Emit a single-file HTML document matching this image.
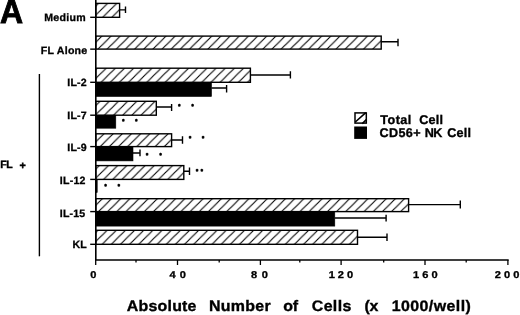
<!DOCTYPE html>
<html><head><meta charset="utf-8"><title>Figure A</title>
<style>
html,body{margin:0;padding:0;background:#fff;}
body{width:520px;height:315px;overflow:hidden;}
svg{display:block;}
text{font-family:"Liberation Sans",sans-serif;font-weight:bold;fill:#000;text-rendering:geometricPrecision;}
</style></head><body>
<svg width="520" height="315" viewBox="0 0 520 315">
<defs>
<pattern id="h" patternUnits="userSpaceOnUse" width="9.157" height="9.057" patternTransform="translate(1.13,0)">
<path d="M-1.37,10.42 L10.53,-1.36 M-2.29,2.26 L2.29,-2.26 M6.87,11.32 L11.45,6.79" stroke="#000" stroke-width="1.1" fill="none"/>
</pattern>
</defs>
<rect width="520" height="315" fill="#fff"/>

<rect x="95.8" y="3.4" width="23.8" height="13.9" fill="url(#h)" stroke="#000" stroke-width="1.4"/>
<line x1="90.2" y1="17.3" x2="95.8" y2="17.3" stroke="#000" stroke-width="1.4"/>
<rect x="95.8" y="36.1" width="285.4" height="13.0" fill="url(#h)" stroke="#000" stroke-width="1.4"/>
<line x1="90.2" y1="49.15" x2="95.8" y2="49.15" stroke="#000" stroke-width="1.4"/>
<rect x="95.8" y="68.2" width="154.6" height="14.1" fill="url(#h)" stroke="#000" stroke-width="1.4"/>
<rect x="95.8" y="82.3" width="115.7" height="14.2" fill="#000" stroke="#000" stroke-width="0.6"/>
<line x1="90.2" y1="82.3" x2="95.8" y2="82.3" stroke="#000" stroke-width="1.4"/>
<rect x="95.8" y="101.3" width="60.5" height="13.9" fill="url(#h)" stroke="#000" stroke-width="1.4"/>
<rect x="95.8" y="115.2" width="20.0" height="13.0" fill="#000" stroke="#000" stroke-width="0.6"/>
<line x1="90.2" y1="115.2" x2="95.8" y2="115.2" stroke="#000" stroke-width="1.4"/>
<rect x="95.8" y="133.8" width="75.8" height="12.8" fill="url(#h)" stroke="#000" stroke-width="1.4"/>
<rect x="95.8" y="146.6" width="37.2" height="14.3" fill="#000" stroke="#000" stroke-width="0.6"/>
<line x1="90.2" y1="146.6" x2="95.8" y2="146.6" stroke="#000" stroke-width="1.4"/>
<rect x="95.8" y="165.6" width="88.0" height="13.8" fill="url(#h)" stroke="#000" stroke-width="1.4"/>
<rect x="95.8" y="179.4" width="1.4" height="13.1" fill="#000" stroke="#000" stroke-width="0.6"/>
<line x1="90.2" y1="179.4" x2="95.8" y2="179.4" stroke="#000" stroke-width="1.4"/>
<rect x="95.8" y="198.7" width="312.8" height="12.9" fill="url(#h)" stroke="#000" stroke-width="1.4"/>
<rect x="95.8" y="211.6" width="239.0" height="14.5" fill="#000" stroke="#000" stroke-width="0.6"/>
<line x1="90.2" y1="211.6" x2="95.8" y2="211.6" stroke="#000" stroke-width="1.4"/>
<rect x="95.8" y="230.3" width="261.7" height="14.0" fill="url(#h)" stroke="#000" stroke-width="1.4"/>
<line x1="90.2" y1="244.3" x2="95.8" y2="244.3" stroke="#000" stroke-width="1.4"/>
<path d="M119.6,9.9 H125.5 M125.5,6.5 V13.0" stroke="#000" stroke-width="1.4" fill="none"/>
<path d="M381.2,41.8 H398.0 M398.0,38.8 V46.2" stroke="#000" stroke-width="1.4" fill="none"/>
<path d="M250.4,75.0 H290.4 M290.4,71.3 V78.5" stroke="#000" stroke-width="1.4" fill="none"/>
<path d="M211.5,88.0 H226.6 M226.6,84.9 V92.4" stroke="#000" stroke-width="1.4" fill="none"/>
<path d="M156.3,107.0 H171.6 M171.6,103.9 V111.1" stroke="#000" stroke-width="1.4" fill="none"/>
<path d="M171.6,140.0 H182.5 M182.5,136.3 V143.8" stroke="#000" stroke-width="1.4" fill="none"/>
<path d="M133.0,153.0 H140.0 M140.0,149.5 V156.3" stroke="#000" stroke-width="1.4" fill="none"/>
<path d="M183.8,171.3 H189.5 M189.5,167.5 V175.0" stroke="#000" stroke-width="1.4" fill="none"/>
<path d="M408.6,204.6 H460.3 M460.3,200.6 V208.5" stroke="#000" stroke-width="1.4" fill="none"/>
<path d="M334.8,218.0 H386.1 M386.1,214.8 V221.5" stroke="#000" stroke-width="1.4" fill="none"/>
<path d="M357.5,237.3 H387.0 M387.0,233.5 V240.9" stroke="#000" stroke-width="1.4" fill="none"/>
<path d="M95.8,0 V260 H508.7" stroke="#000" stroke-width="1.6" fill="none"/>
<line x1="95.7" y1="260" x2="95.7" y2="265.0" stroke="#000" stroke-width="1.3"/>
<line x1="136.0" y1="260" x2="136.0" y2="262.6" stroke="#000" stroke-width="1.3"/>
<line x1="177.5" y1="260" x2="177.5" y2="265.0" stroke="#000" stroke-width="1.3"/>
<line x1="219.2" y1="260" x2="219.2" y2="262.6" stroke="#000" stroke-width="1.3"/>
<line x1="260.4" y1="260" x2="260.4" y2="265.0" stroke="#000" stroke-width="1.3"/>
<line x1="299.8" y1="260" x2="299.8" y2="262.6" stroke="#000" stroke-width="1.3"/>
<line x1="341.1" y1="260" x2="341.1" y2="265.0" stroke="#000" stroke-width="1.3"/>
<line x1="383.7" y1="260" x2="383.7" y2="262.6" stroke="#000" stroke-width="1.3"/>
<line x1="425.0" y1="260" x2="425.0" y2="265.0" stroke="#000" stroke-width="1.3"/>
<line x1="466.2" y1="260" x2="466.2" y2="262.6" stroke="#000" stroke-width="1.3"/>
<line x1="507.9" y1="260" x2="507.9" y2="265.0" stroke="#000" stroke-width="1.3"/>
<line x1="39.4" y1="74" x2="39.4" y2="256.3" stroke="#000" stroke-width="1.4"/>
<text id="A" transform="translate(0.00,23.4) scale(0.945,1)" font-size="33.8" stroke="#000" stroke-width="0.9">A</text>
<text id="medium" transform="translate(44.25,21.45) scale(1,1)" font-size="10.6" textLength="41.50" lengthAdjust="spacing" stroke="#000" stroke-width="0.3">Medium</text>
<text id="flalone" transform="translate(40.75,54.05) scale(1,1)" font-size="10.6" textLength="46.50" lengthAdjust="spacing" stroke="#000" stroke-width="0.3">FL Alone</text>
<text id="il2" transform="translate(67.25,86.1) scale(1,1)" font-size="10.6" textLength="19.50" lengthAdjust="spacing" stroke="#000" stroke-width="0.3">IL-2</text>
<text id="il7" transform="translate(67.25,119.1) scale(1,1)" font-size="10.6" textLength="19.50" lengthAdjust="spacing" stroke="#000" stroke-width="0.3">IL-7</text>
<text id="il9" transform="translate(67.25,151.4) scale(1,1)" font-size="10.6" textLength="19.50" lengthAdjust="spacing" stroke="#000" stroke-width="0.3">IL-9</text>
<text id="il12" transform="translate(59.75,183.6) scale(1,1)" font-size="10.6" textLength="25.75" lengthAdjust="spacing" stroke="#000" stroke-width="0.3">IL-12</text>
<text id="il15" transform="translate(59.75,216.6) scale(1,1)" font-size="10.6" textLength="25.50" lengthAdjust="spacing" stroke="#000" stroke-width="0.3">IL-15</text>
<text id="kl" transform="translate(72.50,248.2) scale(1,1)" font-size="10.6" textLength="14.25" lengthAdjust="spacing" stroke="#000" stroke-width="0.3">KL</text>
<text id="fl" transform="translate(0.25,168.2) scale(1,1)" font-size="10.6" textLength="12.50" lengthAdjust="spacing" stroke="#000" stroke-width="0.35">FL</text>
<text id="plus" transform="translate(19.50,168.9) scale(1,1)" font-size="10.8" stroke="#000" stroke-width="0.4">+</text>
<text id="total" transform="translate(380.25,123.8) scale(1,1)" font-size="12.6" textLength="31.00" lengthAdjust="spacing" stroke="#000" stroke-width="0.35">Total</text>
<text id="cell1" transform="translate(419.25,123.8) scale(1,1)" font-size="12.6" textLength="23.75" lengthAdjust="spacing" stroke="#000" stroke-width="0.35">Cell</text>
<text id="cd56" transform="translate(379.50,137.0) scale(1,1)" font-size="12.6" textLength="41.00" lengthAdjust="spacing" stroke="#000" stroke-width="0.35">CD56+</text>
<text id="nk" transform="translate(424.75,137.0) scale(1,1)" font-size="12.6" textLength="17.50" lengthAdjust="spacing" stroke="#000" stroke-width="0.35">NK</text>
<text id="cell2" transform="translate(447.25,137.0) scale(1,1)" font-size="12.6" textLength="23.75" lengthAdjust="spacing" stroke="#000" stroke-width="0.35">Cell</text>
<text id="t0" transform="translate(90.15,278.3) scale(1.12,1)" font-size="9.9" stroke="#000" stroke-width="0.3">0</text>
<text id="t40" transform="translate(169.50,278.3) scale(1.12,1)" font-size="9.9" textLength="14.69" lengthAdjust="spacing" stroke="#000" stroke-width="0.3">4 0</text>
<text id="t80" transform="translate(251.05,278.3) scale(1.12,1)" font-size="9.9" textLength="15.09" lengthAdjust="spacing" stroke="#000" stroke-width="0.3">8 0</text>
<text id="t120" transform="translate(328.80,278.3) scale(1.12,1)" font-size="9.9" textLength="21.65" lengthAdjust="spacing" stroke="#000" stroke-width="0.3">1 2 0</text>
<text id="t160" transform="translate(413.00,278.3) scale(1.12,1)" font-size="9.9" textLength="22.10" lengthAdjust="spacing" stroke="#000" stroke-width="0.3">1 6 0</text>
<text id="t200" transform="translate(494.85,278.3) scale(1.12,1)" font-size="9.9" textLength="21.96" lengthAdjust="spacing" stroke="#000" stroke-width="0.3">2 0 0</text>
<text id="absolute" transform="translate(126.75,311.2) scale(1.05,1)" font-size="15.2" textLength="66.43" lengthAdjust="spacing" stroke="#000" stroke-width="0.35">Absolute</text>
<text id="number" transform="translate(209.00,311.2) scale(1.05,1)" font-size="15.2" textLength="58.81" lengthAdjust="spacing" stroke="#000" stroke-width="0.35">Number</text>
<text id="of" transform="translate(283.25,311.2) scale(1.05,1)" font-size="15.2" textLength="14.05" lengthAdjust="spacing" stroke="#000" stroke-width="0.35">of</text>
<text id="cells" transform="translate(311.80,311.2) scale(1.05,1)" font-size="15.2" textLength="37.62" lengthAdjust="spacing" stroke="#000" stroke-width="0.35">Cells</text>
<text id="x" transform="translate(364.50,311.2) scale(1.05,1)" font-size="15.2" textLength="13.33" lengthAdjust="spacing" stroke="#000" stroke-width="0.35">(x</text>
<text id="well" transform="translate(391.75,311.2) scale(1.05,1)" font-size="15.2" textLength="75.33" lengthAdjust="spacing" stroke="#000" stroke-width="0.35">1000/well)</text>
<rect x="355.0" y="112.9" width="11.3" height="10.2" fill="#fff" stroke="#000" stroke-width="1.5"/>
<path d="M355.3,122.0 L365.8,112.6 M362.3,123.6 L366.6,119.4" stroke="#000" stroke-width="1.6" fill="none"/>
<rect x="354.2" y="126.5" width="12.8" height="12.4" fill="#000"/>
<text x="179.2" y="108.3" font-size="5.5" text-anchor="middle" stroke="#000" stroke-width="0.85" stroke-linejoin="round">*</text>
<text x="192.6" y="108.3" font-size="5.5" text-anchor="middle" stroke="#000" stroke-width="0.85" stroke-linejoin="round">*</text>
<text x="123.3" y="123.2" font-size="5.5" text-anchor="middle" stroke="#000" stroke-width="0.85" stroke-linejoin="round">*</text>
<text x="136.3" y="123.2" font-size="5.5" text-anchor="middle" stroke="#000" stroke-width="0.85" stroke-linejoin="round">*</text>
<text x="190" y="139.7" font-size="5.5" text-anchor="middle" stroke="#000" stroke-width="0.85" stroke-linejoin="round">*</text>
<text x="203" y="139.7" font-size="5.5" text-anchor="middle" stroke="#000" stroke-width="0.85" stroke-linejoin="round">*</text>
<text x="147" y="157.2" font-size="5.5" text-anchor="middle" stroke="#000" stroke-width="0.85" stroke-linejoin="round">*</text>
<text x="160.5" y="157.2" font-size="5.5" text-anchor="middle" stroke="#000" stroke-width="0.85" stroke-linejoin="round">*</text>
<text x="197" y="172.7" font-size="5.5" text-anchor="middle" stroke="#000" stroke-width="0.85" stroke-linejoin="round">*</text>
<text x="201.8" y="172.7" font-size="5.5" text-anchor="middle" stroke="#000" stroke-width="0.85" stroke-linejoin="round">*</text>
<text x="105.5" y="187.7" font-size="5.5" text-anchor="middle" stroke="#000" stroke-width="0.85" stroke-linejoin="round">*</text>
<text x="118.8" y="187.7" font-size="5.5" text-anchor="middle" stroke="#000" stroke-width="0.85" stroke-linejoin="round">*</text>
</svg></body></html>
